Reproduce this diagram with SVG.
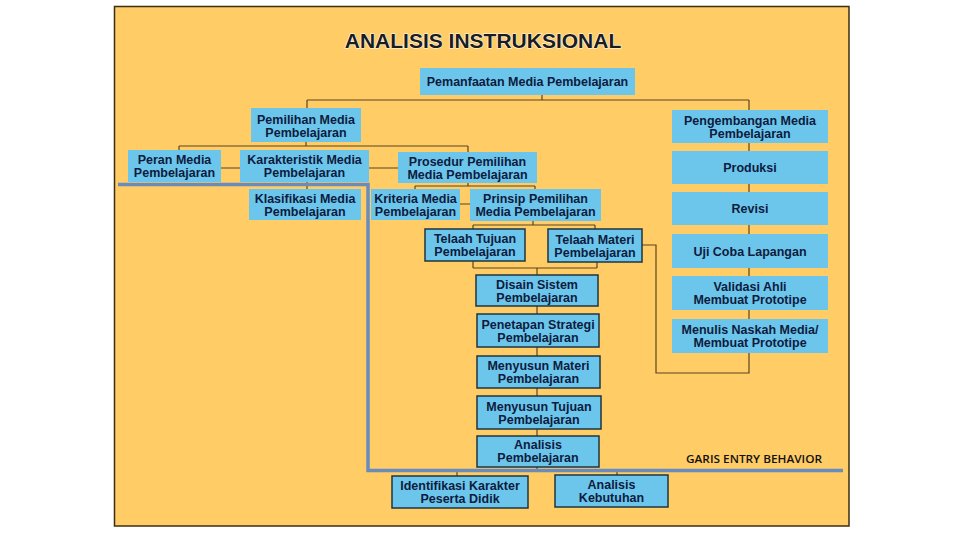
<svg xmlns="http://www.w3.org/2000/svg" width="960" height="540" viewBox="0 0 960 540">
<style>
.node{fill:#6CC6EC}
.bd{stroke:#1e3440;stroke-width:1.5}
.t{font-family:"Liberation Sans",Arial,sans-serif;font-weight:bold;font-size:12.5px;fill:#0d1b3e;text-anchor:middle}
.conn{fill:none;stroke:#5a4520;stroke-width:1.2}
.entry{fill:none;stroke:#6A8CBC;stroke-width:3.5}
</style>
<rect x="0" y="0" width="960" height="540" fill="#ffffff"/>
<rect x="114.5" y="6.5" width="734.5" height="519.5" fill="#FFCC66" stroke="#3d2e12" stroke-width="1.5"/>
<text x="483" y="48" font-family="Liberation Sans,Arial,sans-serif" font-weight="bold" font-size="21" text-anchor="middle" fill="#1c1c1c" stroke="#ffffff" stroke-width="1.2" paint-order="stroke">ANALISIS INSTRUKSIONAL</text>
<g id="connectors">
<path class="conn" d="M542 95 V100 M307 100 H749 M307 100 V108 M749 100 V373 H656 V245 H642 M306 142 V146 M179 146 H468 M179 146 V150 M468 146 V152 M221 168 H240 M369 168 H398 M307 182 V189 M468 183 V186 M415 186 H535 M415 186 V189 M535 186 V189 M460 204 H470 M533 221 V225 M473 225 H595 M473 225 V229 M595 225 V229 M473 261 V268 M597 262 V268 M473 268 H597 M537 268 V471 M457 471 H617 M457 471 V476 M617 471 V475"/>
</g>
<g id="n1"><rect class="node" x="420" y="68" width="215" height="27"/><text class="t" x="527.5" y="86">Pemanfaatan Media Pembelajaran</text></g>
<g id="n2"><rect class="node" x="251" y="108" width="110" height="34"/><text class="t" x="306" y="124">Pemilihan Media</text><text class="t" x="306" y="137">Pembelajaran</text></g>
<g id="n3"><rect class="node" x="672" y="110" width="156" height="33"/><text class="t" x="750" y="124.5">Pengembangan Media</text><text class="t" x="750" y="137.5">Pembelajaran</text></g>
<g id="n4"><rect class="node" x="128" y="150" width="93" height="32"/><text class="t" x="174.5" y="164">Peran Media</text><text class="t" x="174.5" y="177">Pembelajaran</text></g>
<g id="n5"><rect class="node" x="240" y="150" width="129" height="32"/><text class="t" x="304.5" y="164">Karakteristik Media</text><text class="t" x="304.5" y="177">Pembelajaran</text></g>
<g id="n6"><rect class="node" x="398" y="152" width="139" height="31"/><text class="t" x="467.5" y="165.5">Prosedur Pemilihan</text><text class="t" x="467.5" y="178.5">Media Pembelajaran</text></g>
<g id="n7"><rect class="node" x="249" y="189" width="112" height="31"/><text class="t" x="305" y="202.5">Klasifikasi Media</text><text class="t" x="305" y="215.5">Pembelajaran</text></g>
<g id="n8"><rect class="node" x="371" y="189" width="89" height="31"/><text class="t" x="415.5" y="202.5">Kriteria Media</text><text class="t" x="415.5" y="215.5">Pembelajaran</text></g>
<g id="n9"><rect class="node" x="470" y="189" width="131" height="32"/><text class="t" x="535.5" y="203">Prinsip Pemilihan</text><text class="t" x="535.5" y="216">Media Pembelajaran</text></g>
<g id="n10"><rect class="node bd" x="425" y="229" width="100" height="32"/><text class="t" x="475" y="243">Telaah Tujuan</text><text class="t" x="475" y="256">Pembelajaran</text></g>
<g id="n11"><rect class="node bd" x="548" y="229" width="94" height="33"/><text class="t" x="595" y="243.5">Telaah Materi</text><text class="t" x="595" y="256.5">Pembelajaran</text></g>
<g id="n12"><rect class="node bd" x="476" y="275" width="122" height="31"/><text class="t" x="537" y="288.5">Disain Sistem</text><text class="t" x="537" y="301.5">Pembelajaran</text></g>
<g id="n13"><rect class="node bd" x="477" y="314" width="122" height="33"/><text class="t" x="538" y="328.5">Penetapan Strategi</text><text class="t" x="538" y="341.5">Pembelajaran</text></g>
<g id="n14"><rect class="node bd" x="477" y="356" width="123" height="32"/><text class="t" x="538.5" y="370">Menyusun Materi</text><text class="t" x="538.5" y="383">Pembelajaran</text></g>
<g id="n15"><rect class="node bd" x="477" y="396" width="124" height="33"/><text class="t" x="539" y="410.5">Menyusun Tujuan</text><text class="t" x="539" y="423.5">Pembelajaran</text></g>
<g id="n16"><rect class="node bd" x="477" y="436" width="122" height="31"/><text class="t" x="538" y="448.5">Analisis</text><text class="t" x="538" y="461.5">Pembelajaran</text></g>
<g id="n17"><rect class="node bd" x="392" y="476" width="136" height="32"/><text class="t" x="460" y="490">Identifikasi Karakter</text><text class="t" x="460" y="503">Peserta Didik</text></g>
<g id="n18"><rect class="node bd" x="555" y="475" width="113" height="32"/><text class="t" x="611.5" y="489">Analisis</text><text class="t" x="611.5" y="502">Kebutuhan</text></g>
<g id="n19"><rect class="node" x="672" y="151" width="156" height="33"/><text class="t" x="750" y="172">Produksi</text></g>
<g id="n20"><rect class="node" x="672" y="192" width="156" height="33"/><text class="t" x="750" y="213">Revisi</text></g>
<g id="n21"><rect class="node" x="672" y="234" width="156" height="34"/><text class="t" x="750" y="255.5">Uji Coba Lapangan</text></g>
<g id="n22"><rect class="node" x="672" y="276" width="156" height="34"/><text class="t" x="750" y="291">Validasi Ahli</text><text class="t" x="750" y="304">Membuat Prototipe</text></g>
<g id="n23"><rect class="node" x="672" y="319" width="156" height="34"/><text class="t" x="750" y="334">Menulis Naskah Media/</text><text class="t" x="750" y="347">Membuat Prototipe</text></g>
<g id="entry-line">
<path class="entry" d="M118 184.5 H368 V470.5 H843"/>
<text x="686" y="463" font-family="Open Sans,Liberation Sans,sans-serif" font-weight="600" font-size="11" fill="#111111" textLength="136" lengthAdjust="spacingAndGlyphs">GARIS ENTRY BEHAVIOR</text>
</g>
</svg>
